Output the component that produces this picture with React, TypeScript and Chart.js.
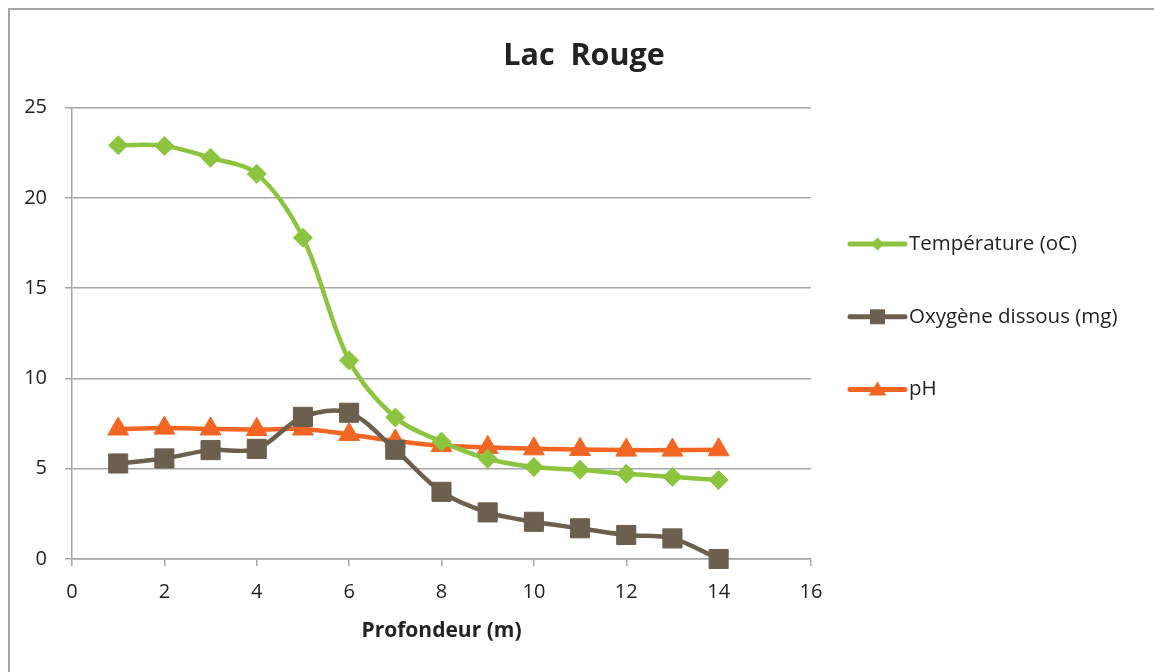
import React, { useEffect, useRef } from "react";
import { Chart, registerables } from "chart.js";

Chart.register(...registerables);

const chartTitle = "Lac  Rouge";
const xAxisTitle = "Profondeur (m)";
const seriesNames = ["Température (oC)", "Oxygène dissous (mg)", "pH"];
const depth = [1, 2, 3, 4, 5, 6, 7, 8, 9, 10, 11, 12, 13, 14];
const temperature = [22.92, 22.88, 22.22, 21.33, 17.79, 11.0, 7.84, 6.5, 5.55, 5.09, 4.94, 4.72, 4.55, 4.37];
const oxygen = [5.29, 5.57, 6.03, 6.1, 7.87, 8.1, 6.05, 3.72, 2.58, 2.06, 1.7, 1.33, 1.14, 0];
const ph = [7.2, 7.25, 7.2, 7.17, 7.2, 6.9, 6.54, 6.28, 6.18, 6.1, 6.07, 6.03, 6.03, 6.05];
const xRange = [0, 16];
const xStep = 2;
const yRange = [0, 25];
const yStep = 5;

const GREEN = "#8cc43f";
const BROWN = "#6b5f4d";
const ORANGE = "#f26522";
const GRID = "#a6a6a6";
const TEXT = "#222222";
const FONT = "'Open Sans', 'DejaVu Sans', sans-serif";

function drawMarker(ctx: CanvasRenderingContext2D, style: string, x: number, y: number, s: number) {
  ctx.beginPath();
  if (style === "rectRot") {
    ctx.moveTo(x, y - s);
    ctx.lineTo(x + s, y);
    ctx.lineTo(x, y + s);
    ctx.lineTo(x - s, y);
    ctx.closePath();
  } else if (style === "rect") {
    ctx.rect(x - s, y - s, 2 * s, 2 * s);
  } else {
    ctx.moveTo(x, y - s);
    ctx.lineTo(x + s * 1.1, y + s * 0.75);
    ctx.lineTo(x - s * 1.1, y + s * 0.75);
    ctx.closePath();
  }
  ctx.fill();
}

const sideLegend = {
  id: "sideLegend",
  afterDraw(chart: any, _args: any, opts: any) {
    const ctx = chart.ctx as CanvasRenderingContext2D;
    chart.data.datasets.forEach((ds: any, i: number) => {
      const y = opts.top + i * opts.gap;
      ctx.save();
      ctx.strokeStyle = ds.borderColor;
      ctx.lineWidth = opts.lineWidth;
      ctx.lineCap = "round";
      ctx.beginPath();
      ctx.moveTo(opts.x, y);
      ctx.lineTo(opts.x + opts.lineLen, y);
      ctx.stroke();
      ctx.fillStyle = ds.pointBackgroundColor;
      drawMarker(ctx, ds.pointStyle, opts.x + opts.lineLen / 2, y, opts.markerSizes[i]);
      ctx.fillStyle = opts.color;
      ctx.font = opts.font;
      ctx.textBaseline = "middle";
      ctx.textAlign = "left";
      ctx.fillText(ds.label, opts.x + opts.lineLen + opts.textGap, y);
      ctx.restore();
    });
  },
};

export default function App() {
  const ref = useRef<HTMLCanvasElement | null>(null);

  useEffect(() => {
    if (!ref.current) return;
    const mk = (label: string, data: number[], color: string, style: string, radius: number) => ({
      label,
      data: depth.map((d, i) => ({ x: d, y: data[i] })),
      borderColor: color,
      backgroundColor: color,
      pointBackgroundColor: color,
      pointBorderColor: color,
      pointBorderWidth: 1,
      pointStyle: style,
      pointRadius: radius,
      borderWidth: 4.5,
      tension: 0.33,
      clip: false,
      yAxisID: "y",
    });
    const chart = new Chart(ref.current, {
      type: "line",
      data: {
        datasets: [
          mk(seriesNames[0], temperature, GREEN, "rectRot", 9.5),
          mk(seriesNames[1], oxygen, BROWN, "rect", 13.5),
          mk(seriesNames[2], ph, ORANGE, "triangle", 12),
        ] as any,
      },
      plugins: [sideLegend as any],
      options: {
        responsive: false,
        animation: false,
        layout: { padding: { left: 0, top: 0, right: 0, bottom: 0 } },
        plugins: {
          legend: { display: false },
          tooltip: { enabled: false },
          title: {
            display: true,
            text: chartTitle,
            color: TEXT,
            font: { family: FONT, size: 30.5, weight: "bold" },
            padding: { top: 38, bottom: 33 },
          },
          sideLegend: {
            x: 850,
            lineLen: 55,
            textGap: 4,
            top: 244,
            gap: 72.8,
            lineWidth: 5,
            markerSizes: [6.5, 7.5, 8],
            color: TEXT,
            font: `20.5px ${FONT}`,
          },
        } as any,
        scales: {
          x: {
            type: "linear",
            min: xRange[0],
            max: xRange[1],
            afterFit: (scale: any) => {
              scale.height = 113;
            },
            ticks: { stepSize: xStep, color: TEXT, font: { family: FONT, size: 20 }, padding: 14 },
            grid: { display: true, drawOnChartArea: false, drawTicks: true, tickLength: 7, color: GRID, lineWidth: 1.5 },
            border: { display: true, color: GRID, width: 1.5 },
            title: {
              display: true,
              text: xAxisTitle,
              color: TEXT,
              font: { family: FONT, size: 21, weight: "bold" },
              padding: { top: 6, bottom: 28 },
            },
          },
          y: {
            type: "linear",
            min: yRange[0],
            max: yRange[1],
            afterFit: (scale: any) => {
              scale.width = 72;
            },
            ticks: { stepSize: yStep, color: TEXT, font: { family: FONT, size: 20 }, padding: 18 },
            grid: { color: GRID, lineWidth: 1.5, tickLength: 7, drawTicks: true },
            border: { display: true, color: GRID, width: 1.5 },
          },
          legendSpace: {
            type: "linear",
            position: "right",
            display: true,
            afterFit: (scale: any) => {
              scale.width = 357;
            },
            ticks: { display: false },
            grid: { display: false, drawTicks: false },
            border: { display: false },
          },
        } as any,
      },
    });
    return () => chart.destroy();
  }, []);

  return (
    <div style={{ position: "fixed", left: 0, top: 0, width: 1154, height: 672, overflow: "hidden", background: "#fff" }}>
      <div
        style={{
          position: "absolute",
          left: 8,
          top: 8,
          width: 1300,
          height: 800,
          border: `2px solid ${GRID}`,
          boxSizing: "border-box",
        }}
      />
      <canvas ref={ref} width={1168} height={672} style={{ position: "absolute", left: 0, top: 0, width: 1168, height: 672 }} />
    </div>
  );
}
